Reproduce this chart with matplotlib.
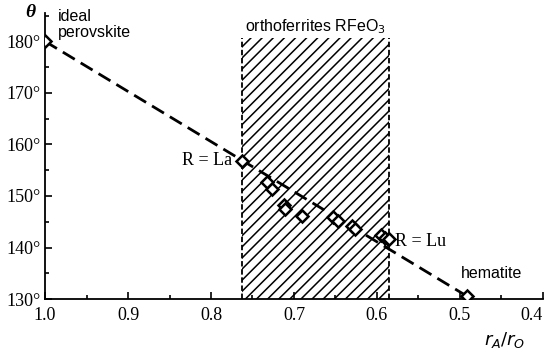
import matplotlib
matplotlib.use("Agg")
import matplotlib.pyplot as plt
from matplotlib.ticker import MultipleLocator, FuncFormatter
from matplotlib.patches import Rectangle

plt.rcParams["hatch.linewidth"] = 1.1

# data
ratio = [1.0, 0.763, 0.732, 0.726, 0.712, 0.711, 0.690, 0.653, 0.647, 0.630, 0.626, 0.595, 0.590, 0.586, 0.492]
angle = [180.0, 156.7, 152.8, 151.3, 148.2, 147.5, 146.2, 146.0, 145.1, 144.2, 143.5, 142.4, 141.8, 141.6, 130.6]
fit_x = [1.0, 0.492]
fit_y = [180.0, 130.6]
region = [0.763, 0.585]
x_ticks = [1.0, 0.9, 0.8, 0.7, 0.6, 0.5, 0.4]
y_ticks = [130, 140, 150, 160, 170, 180]

fig = plt.figure(figsize=(5.49, 3.51), dpi=100)
ax = fig.add_axes([0.082, 0.148, 0.907, 0.815])
ax.set_xlim(1.0, 0.4)
ax.set_ylim(130, 185.5)

serif = "Liberation Serif"
sans = "Liberation Sans"

# shaded region
rect = Rectangle((region[1], 130), region[0] - region[1], 180.6 - 130,
                 facecolor="none", edgecolor="black", hatch="///", linewidth=0)
ax.add_patch(rect)
for xv in region:
    ax.plot([xv, xv], [130, 180.6], color="black", linestyle=(0, (3, 1.5)), linewidth=1.3)

ax.plot(fit_x, fit_y, color="black", linestyle=(0, (5, 2.5)), linewidth=2.0, zorder=3)
ax.plot(ratio, angle, linestyle="none", marker="D", markersize=6.5, markerfacecolor="white",
        markeredgecolor="black", markeredgewidth=1.8, zorder=4)

for s in ["top", "right"]:
    ax.spines[s].set_visible(False)
for s in ["left", "bottom"]:
    ax.spines[s].set_linewidth(1.3)

ax.set_xticks(x_ticks)
ax.set_yticks(y_ticks)
ax.xaxis.set_minor_locator(MultipleLocator(0.05))
ax.yaxis.set_minor_locator(MultipleLocator(5))
ax.tick_params(which="both", direction="in", width=1.2)
ax.tick_params(which="major", length=5, labelsize=13, pad=6)
ax.tick_params(which="minor", length=3)
ax.xaxis.set_major_formatter(FuncFormatter(lambda v, p: f"{v:.1f}"))
ax.yaxis.set_major_formatter(FuncFormatter(lambda v, p: f"{int(round(v))}°"))
for lab in ax.get_xticklabels() + ax.get_yticklabels():
    lab.set_fontfamily(serif)
xl = ax.get_xticklabels()
xl[-1].set_horizontalalignment("right")
ax.tick_params(axis="y", pad=3)

fig.text(0.055, 0.963, "θ", fontfamily=serif, fontsize=14,
         fontstyle="italic", fontweight="bold", ha="center", va="center")
ax.text(0.985, 183.3, "ideal\nperovskite", fontfamily=sans, fontsize=11.5, ha="left",
        va="center", linespacing=1.1)
ax.text(0.674, 182.9, "orthoferrites RFeO$_3$", fontfamily=sans, fontsize=11.5,
        ha="center", va="center")
ax.text(0.775, 156.8, "R = La", fontfamily=serif, fontsize=13, ha="right", va="center")
ax.text(0.578, 141.2, "R = Lu", fontfamily=serif, fontsize=13, ha="left", va="center")
ax.text(0.462, 135.0, "hematite", fontfamily=sans, fontsize=11.5, ha="center", va="center")
fig.text(0.92, 0.03, r"$r_A/r_O$", fontsize=13, ha="center", va="center")

fig.savefig("out.png", dpi=100)
